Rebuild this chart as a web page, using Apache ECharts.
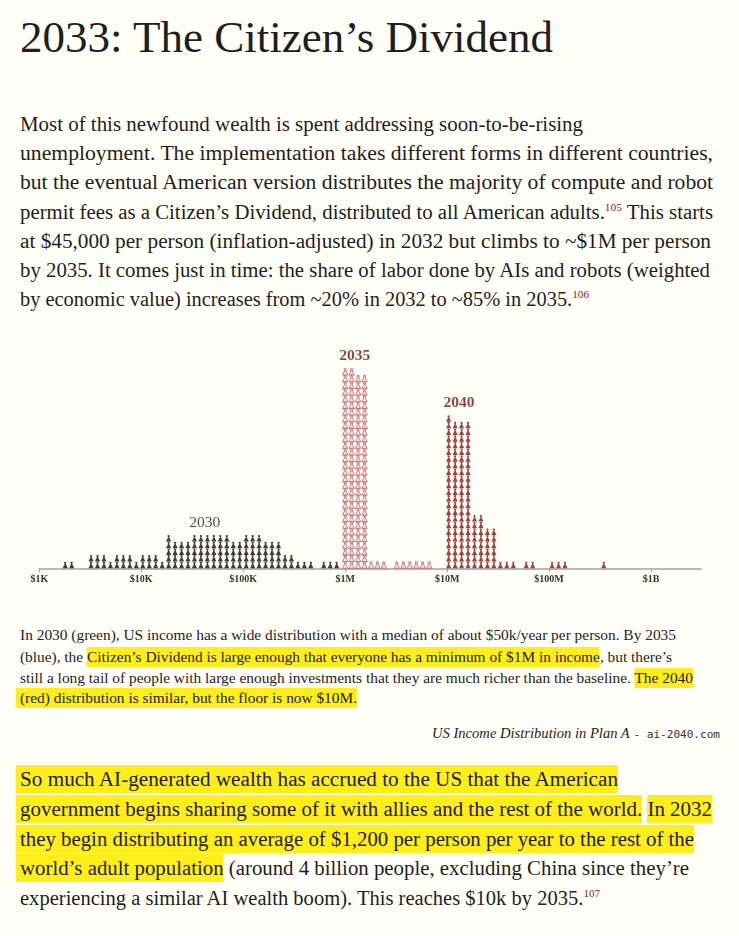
<!DOCTYPE html>
<html><head><meta charset="utf-8">
<script src="https://cdn.jsdelivr.net/npm/echarts@6/dist/echarts.min.js"></script>
<style>
html,body{margin:0;padding:0;background:#FFFEF7;}
body{width:739px;height:936px;position:relative;overflow:hidden;font-family:'Liberation Serif','DejaVu Serif',serif;color:#1e1e1e;}
.ln{position:absolute;white-space:nowrap;}
.ln > span.t{display:inline-block;transform-origin:0 50%;}
.hl{background:#FFEE1A;}
.cap .hl{padding:2px 0;}
.big .hl{padding:3px 0;}
.hl.first{margin-left:-4px;padding-left:4px;}
sup{font-size:11px;color:#8b1a1a;vertical-align:baseline;position:relative;top:-8px;}
.src i{font-style:italic;}
.mono{font-family:'DejaVu Sans Mono','Liberation Mono',monospace;font-size:11px;color:#333;}
#chart{position:absolute;left:0;top:330px;width:739px;height:270px;}
</style></head>
<body>
<div id="chart"></div>
<script>
// ---------------- chart data ----------------
const tickLabels = ['$1K','$10K','$100K','$1M','$10M','$100M','$1B'];
const tickValues = [3,4,5,6,7,8,9];           // log10 of income
const colStep = 0.0634;                        // width of one icon column, in decades
const start2030 = 3.254;                       // log10 income of first column
const counts2030 = [1,1,0,0,2,2,2,1,2,2,2,1,2,2,2,1,5,4,4,4,5,5,5,5,5,5,4,4,5,5,5,4,4,4,2,2,1,1,1,0,1,1,1];
const start2035 = 6.0;
const counts2035 = [30,30,29,29,1,1,1,0,1,1,1,1,1,1];
const start2040 = 7.015;
const counts2040 = [23,22,22,22,8,8,6,6,1,1,1,0,1,1,0,0,1,1,1,0,0,0,0,0,1];
const years = ['2030','2035','2040'];

// ---------------- text layout ----------------
const textLines = [
 {x:20, b:52.5, fs:44, w:533, h:'2033: The Citizen’s Dividend'},
 {x:20, b:130.5, fs:20, w:563, h:'Most of this newfound wealth is spent addressing soon-to-be-rising'},
 {x:20, b:160, fs:20, w:693, h:'unemployment. The implementation takes different forms in different countries,'},
 {x:20, b:189, fs:20, w:693, h:'but the eventual American version distributes the majority of compute and robot'},
 {x:20, b:218.5, fs:20, w:693, h:'permit fees as a Citizen’s Dividend, distributed to all American adults.<sup>105</sup> This starts'},
 {x:20, b:248, fs:20, w:691, h:'at $45,000 per person (inflation-adjusted) in 2032 but climbs to ~$1M per person'},
 {x:20, b:277, fs:20, w:690, h:'by 2035. It comes just in time: the share of labor done by AIs and robots (weighted'},
 {x:20, b:306, fs:20, w:569, h:'by economic value) increases from ~20% in 2032 to ~85% in 2035.<sup>106</sup>'},
 {x:20, b:640.5, fs:14.5, w:656, c:'cap', h:'In 2030 (green), US income has a wide distribution with a median of about $50k/year per person. By 2035'},
 {x:20, b:662, fs:14.5, w:652, c:'cap', h:'(blue), the <span class="hl">Citizen’s Dividend is large enough that everyone has a minimum of $1M in income</span>, but there’s'},
 {x:20, b:683, fs:14.5, w:673, c:'cap', h:'still a long tail of people with large enough investments that they are much richer than the baseline. <span class="hl">The 2040</span>'},
 {x:20, b:703.5, fs:14.5, w:337, c:'cap', h:'<span class="hl first">(red) distribution is similar, but the floor is now $10M.</span>'},
 {right:719.5, b:738.5, fs:14.5, w:288, c:'src', h:'<i>US Income Distribution in Plan A</i> <span class="mono">- ai-2040.com</span>'},
 {x:20, b:786, fs:20.5, w:598, c:'big', h:'<span class="hl first">So much AI-generated wealth has accrued to the US that the American</span>'},
 {x:20, b:816, fs:20.5, w:692, c:'big', h:'<span class="hl first">government begins sharing some of it with allies and the rest of the world.</span> <span class="hl">In 2032</span>'},
 {x:20, b:846, fs:20.5, w:674, c:'big', h:'<span class="hl first">they begin distributing an average of $1,200 per person per year to the rest of the</span>'},
 {x:20, b:875, fs:20.5, w:669, c:'big', h:'<span class="hl first">world’s adult population</span> (around 4 billion people, excluding China since they’re'},
 {x:20, b:905, fs:20.5, w:580, c:'big', h:'experiencing a similar AI wealth boom). This reaches $10k by 2035.<sup>107</sup>'}
];
const els = [];
textLines.forEach(L => {
  const d = document.createElement('div');
  d.className = 'ln ' + (L.c || '');
  d.style.fontSize = L.fs + 'px';
  d.style.lineHeight = L.fs + 'px';
  d.style.top = (L.b - 0.8375 * L.fs) + 'px';
  d.style.left = (L.right !== undefined ? L.right - L.w : L.x) + 'px';
  const s = document.createElement('span');
  s.className = 't';
  s.innerHTML = L.h;
  d.appendChild(s);
  document.body.appendChild(d);
  els.push([s, L.w]);
});
function fit(){
  els.forEach(([s, w]) => {
    s.style.transform = 'none';
    const nw = s.getBoundingClientRect().width;
    if (nw > 0) s.style.transform = 'scaleX(' + (w / nw) + ')';
  });
}
fit();
if (document.fonts && document.fonts.ready) document.fonts.ready.then(fit);

// ---------------- chart ----------------
const person = 'path://M2.8,2.3 A2.2,2.2 0 1,1 7.2,2.3 A2.2,2.2 0 1,1 2.8,2.3 Z M4.1,4.5 L5.9,4.5 L9.8,14 L0.2,14 Z';
function icons(start, counts){
  const pts = [];
  counts.forEach((c, i) => { for (let j = 0; j < c; j++) pts.push([start + i * colStep, j + 0.5]); });
  return pts;
}
function yearLabel(start, counts, col, name){
  return [[start + col * colStep, Math.max.apply(null, counts) + 1.85, name]];
}
const serif = 'Liberation Serif';
function labelSeries(data, color, weight){
  return {type:'scatter', data:data, symbol:'circle', symbolSize:1, itemStyle:{color:'rgba(0,0,0,0)'}, silent:true, z:5,
    label:{show:true, position:'inside', formatter:p => p.data[2], fontFamily:serif, fontSize:15.5, fontWeight:weight, color:color}};
}
const chart = echarts.init(document.getElementById('chart'), null, {renderer:'canvas'});
chart.setOption({
  animation:false,
  backgroundColor:'transparent',
  grid:{left:39.3, right:38, top:18.5, bottom:31.7},
  xAxis:{type:'value', min:3, max:9.49, interval:1,
    axisLine:{show:true, lineStyle:{color:'#a3a3a3', width:1.6}},
    axisTick:{show:true, length:4, customValues:tickValues, lineStyle:{color:'#a3a3a3', width:1}},
    splitLine:{show:false},
    axisLabel:{customValues:tickValues, margin:6, fontFamily:serif, fontSize:10, fontWeight:'bold', color:'#333',
      formatter:v => (Math.abs(v - Math.round(v)) < 1e-6 ? tickLabels[Math.round(v) - 3] || '' : '')}},
  yAxis:{type:'value', min:0, max:33, show:false},
  series:[
    {type:'scatter', name:years[0], data:icons(start2030, counts2030), symbol:person, symbolSize:[5.2,6.5],
      itemStyle:{color:'#0d0d0d'}, silent:true},
    {type:'scatter', name:years[1], data:icons(start2035, counts2035), symbol:person, symbolSize:[5.2,6.5],
      itemStyle:{color:'#f7e4e2', borderColor:'#bf5f66', borderWidth:0.95}, silent:true},
    {type:'scatter', name:years[2], data:icons(start2040, counts2040), symbol:person, symbolSize:[5.2,6.5],
      itemStyle:{color:'#841414'}, silent:true},
    labelSeries(yearLabel(start2030, counts2030, 21.6, years[0]), '#1a1a1a', 'normal'),
    labelSeries(yearLabel(start2035, counts2035, 1.5, years[1]), '#741414', 'bold'),
    labelSeries(yearLabel(start2040, counts2040, 1.6, years[2]), '#741414', 'bold')
  ]
});
</script>
</body></html>
